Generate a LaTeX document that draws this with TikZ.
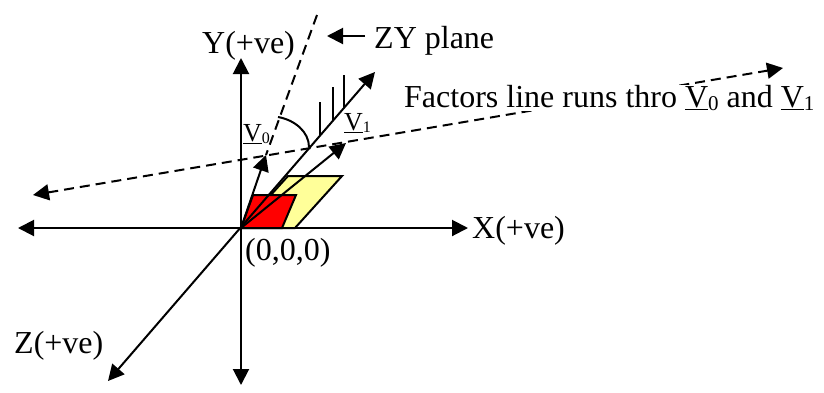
\documentclass[tikz,border=0pt]{standalone}
\usepackage{fontspec}
\setmainfont{Liberation Serif}
\usetikzlibrary{arrows.meta}
\newcommand\vecsub[3]{\underline{V}\raisebox{-#3pt}{\fontsize{#2}{#2}\selectfont #1}}
\definecolor{paleyellow}{RGB}{255,255,153}
\tikzset{
  axisline/.style={line width=2pt,draw=black},
  tipped/.style={axisline,-{Triangle[length=16pt,width=16pt]}},
  bothtipped/.style={axisline,{Triangle[length=16pt,width=16pt]}-{Triangle[length=16pt,width=16pt]}},
  dashline/.style={line width=2pt,dash pattern=on 10pt off 6pt},
  face/.style={draw=black,line width=2pt},
  bigtext/.style={anchor=base west,inner sep=0pt,font=\fontsize{32}{32}\selectfont},
  smalltext/.style={anchor=base west,inner sep=0pt,font=\fontsize{26}{26}\selectfont}
}
\begin{document}
\begin{tikzpicture}[x=1pt,y=-1pt]
\useasboundingbox (0,0) rectangle (824,392);
\coordinate (o) at (241,228);
\coordinate (xl) at (18,228);
\coordinate (xr) at (468,228);
\coordinate (yt) at (241,58);
\coordinate (yb) at (241,385);
\coordinate (zf) at (108,381);
\coordinate (zb) at (375,72);
\coordinate (v0) at (266,155);
\coordinate (v1) at (346,143);
\coordinate (zyt) at (317,15);
\coordinate (fl) at (33,195);
\coordinate (fr) at (783,68);
\coordinate (pt) at (365,36);
\coordinate (pa) at (327,36);
\coordinate (h1t) at (320,102);
\coordinate (h1b) at (320,136);
\coordinate (h2t) at (333,87);
\coordinate (h2b) at (333,121);
\coordinate (h3t) at (344,75);
\coordinate (h3b) at (344,108);
\coordinate (a0) at (278,117);
\coordinate (a1) at (309,147);
% planes
\draw[face,fill=paleyellow] (o) -- (295,228) -- (342,176) -- (288,176) -- cycle;
\draw[face,fill=red] (o) -- (282,228) -- (296,195) -- (253,195) -- cycle;
% axes
\draw[bothtipped] (xl) -- (xr);
\draw[bothtipped] (yt) -- (yb);
\draw[bothtipped] (zf) -- (zb);
% hatch
\draw[axisline] (h1t) -- (h1b);
\draw[axisline] (h2t) -- (h2b);
\draw[axisline] (h3t) -- (h3b);
% dashed
\draw[dashline] (zyt) -- (v0);
\draw[dashline,{Triangle[length=16pt,width=16pt]}-{Triangle[length=16pt,width=16pt]}] (fl) -- (fr);
% vectors
\draw[tipped] (o) -- (v0);
\draw[tipped] (o) -- (v1);
\draw[tipped] (pt) -- (pa);
% arc
\draw[axisline] (a0) .. controls (295,120) and (309,132) .. (a1);
% labels
\node[fill=white,anchor=north west,inner sep=0pt,minimum width=412pt,minimum height=26pt] (factorsbg) at (403,85) {};
\node[bigtext] (factors) at (404,107) {Factors line runs thro \vecsub{0}{21}{3} and \vecsub{1}{21}{3}};
\node[bigtext] (ylab) at (202,53) {Y(+ve)};
\node[bigtext] (zylab) at (374,48) {ZY plane};
\node[bigtext] (xlab) at (472,238) {X(+ve)};
\node[bigtext] (olab) at (245,260) {(0,0,0)};
\node[bigtext] (zlab) at (14,353) {Z(+ve)};
\node[smalltext] (v0lab) at (243,141) {\vecsub{0}{16}{2}};
\node[smalltext] (v1lab) at (344,130) {\vecsub{1}{16}{2}};
\end{tikzpicture}
\end{document}
